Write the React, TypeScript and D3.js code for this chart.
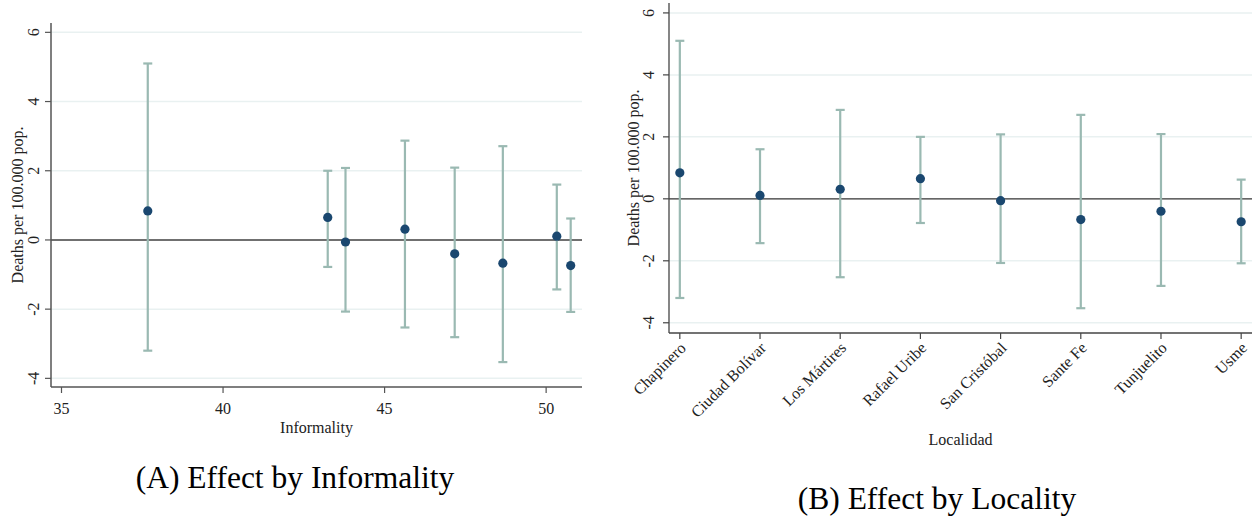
import React from "react";
import * as d3 from "d3";

const localities = ["Chapinero", "Ciudad Bolívar", "Los Mártires", "Rafael Uribe", "San Cristóbal", "Sante Fe", "Tunjuelito", "Usme"];
const informality = [37.67, 50.33, 45.63, 43.24, 43.79, 48.66, 47.17, 50.76];
const estimates = [0.84, 0.11, 0.31, 0.65, -0.06, -0.67, -0.4, -0.74];
const lower = [-3.2, -1.43, -2.53, -0.78, -2.07, -3.53, -2.81, -2.08];
const upper = [5.1, 1.6, 2.87, 2.0, 2.08, 2.71, 2.09, 0.62];
const yTicks = [-4, -2, 0, 2, 4, 6];
const xTicks = [35, 40, 45, 50];

const FONT = "'Liberation Serif', 'DejaVu Serif', serif";
const CAPFONT = "'Liberation Serif', 'DejaVu Serif', serif";
const DOT = "#1a476f";
const WHISK = "#9ab9b2";
const GRID = "#e9f1f1";
const FS = 16;

function Whiskers({ xs, yS }: { xs: number[]; yS: d3.ScaleLinear<number, number> }) {
  return (
    <g>
      {xs.map((x, i) => (
        <g key={i}>
          <line x1={x} x2={x} y1={yS(lower[i])} y2={yS(upper[i])} stroke={WHISK} strokeWidth={2.2} />
          <line x1={x - 4.5} x2={x + 4.5} y1={yS(upper[i])} y2={yS(upper[i])} stroke={WHISK} strokeWidth={2.2} />
          <line x1={x - 4.5} x2={x + 4.5} y1={yS(lower[i])} y2={yS(lower[i])} stroke={WHISK} strokeWidth={2.2} />
        </g>
      ))}
      {xs.map((x, i) => (
        <circle key={"c" + i} cx={x} cy={yS(estimates[i])} r={4.6} fill={DOT} />
      ))}
    </g>
  );
}

function PanelA() {
  const L = 51, R = 582, T = 23, B = 387;
  const x = d3.scaleLinear().domain([34.675, 51.11]).range([L, R]);
  const y = d3.scaleLinear().domain([-4.25, 6.27]).range([B, T]);
  const xs = informality.map((v) => x(v));
  return (
    <g fontFamily={FONT} fill="#222">
      {yTicks.filter((t) => t !== 0).map((t) => (
        <line key={t} x1={L} x2={R} y1={y(t)} y2={y(t)} stroke={GRID} strokeWidth={1.5} />
      ))}
      <line x1={L} x2={R} y1={y(0)} y2={y(0)} stroke="#707070" strokeWidth={2} />
      <Whiskers xs={xs} yS={y} />
      <line x1={L} x2={L} y1={T} y2={B} stroke="#555" strokeWidth={1.5} />
      <line x1={L} x2={R} y1={B} y2={B} stroke="#555" strokeWidth={1.5} />
      {yTicks.map((t) => (
        <g key={t}>
          <line x1={L - 6} x2={L} y1={y(t)} y2={y(t)} stroke="#555" strokeWidth={1.2} />
          <text transform={`translate(39,${y(t)}) rotate(-90)`} textAnchor="middle" fontSize={FS}>{t}</text>
        </g>
      ))}
      {xTicks.map((t) => (
        <g key={t}>
          <line x1={x(t)} x2={x(t)} y1={B} y2={B + 6} stroke="#555" strokeWidth={1.2} />
          <text x={x(t)} y={414} textAnchor="middle" fontSize={FS}>{t}</text>
        </g>
      ))}
      <text transform={`translate(23,${(T + B) / 2}) rotate(-90)`} textAnchor="middle" fontSize={FS}>Deaths per 100.000 pop.</text>
      <text x={(L + R) / 2} y={433} textAnchor="middle" fontSize={FS}>Informality</text>
      <text x={295} y={488} textAnchor="middle" fontSize={31.5} fill="#000" fontFamily={CAPFONT}>(A) Effect by Informality</text>
    </g>
  );
}

function PanelB() {
  const L = 669, R = 1252, T = 3, B = 333;
  const x = d3.scalePoint<string>().domain(localities).range([L, R]).padding(0.135);
  const y = d3.scaleLinear().domain([-4.33, 6.32]).range([B, T]);
  const xs = localities.map((c) => x(c) as number);
  return (
    <g fontFamily={FONT} fill="#222">
      {yTicks.filter((t) => t !== 0).map((t) => (
        <line key={t} x1={L} x2={R} y1={y(t)} y2={y(t)} stroke={GRID} strokeWidth={1.5} />
      ))}
      <line x1={L} x2={R} y1={y(0)} y2={y(0)} stroke="#333" strokeWidth={1.3} />
      <Whiskers xs={xs} yS={y} />
      <line x1={L} x2={L} y1={T} y2={B} stroke="#444" strokeWidth={1.3} />
      <line x1={L} x2={R} y1={B} y2={B} stroke="#444" strokeWidth={1.3} />
      {yTicks.map((t) => (
        <g key={t}>
          <line x1={L - 6} x2={L} y1={y(t)} y2={y(t)} stroke="#444" strokeWidth={1.2} />
          <text transform={`translate(654,${y(t)}) rotate(-90)`} textAnchor="middle" fontSize={FS}>{t}</text>
        </g>
      ))}
      {localities.map((c) => (
        <g key={c}>
          <line x1={x(c)} x2={x(c)} y1={B} y2={B + 6} stroke="#444" strokeWidth={1.2} />
          <text transform={`translate(${(x(c) as number) + 3},${B + 12}) rotate(-45)`} textAnchor="end" dy="0.35em" fontSize={FS}>{c}</text>
        </g>
      ))}
      <text transform={`translate(639,${(T + B) / 2}) rotate(-90)`} textAnchor="middle" fontSize={FS}>Deaths per 100.000 pop.</text>
      <text x={(L + R) / 2} y={445} textAnchor="middle" fontSize={FS}>Localidad</text>
      <text x={937} y={509} textAnchor="middle" fontSize={31.5} fill="#000" fontFamily={CAPFONT}>(B) Effect by Locality</text>
    </g>
  );
}

export default function App() {
  return (
    <svg width={1259} height={516} style={{ position: "absolute", left: 0, top: 0, background: "#fff" }}>
      <rect width={1259} height={516} fill="#fff" />
      <PanelA />
      <PanelB />
    </svg>
  );
}
